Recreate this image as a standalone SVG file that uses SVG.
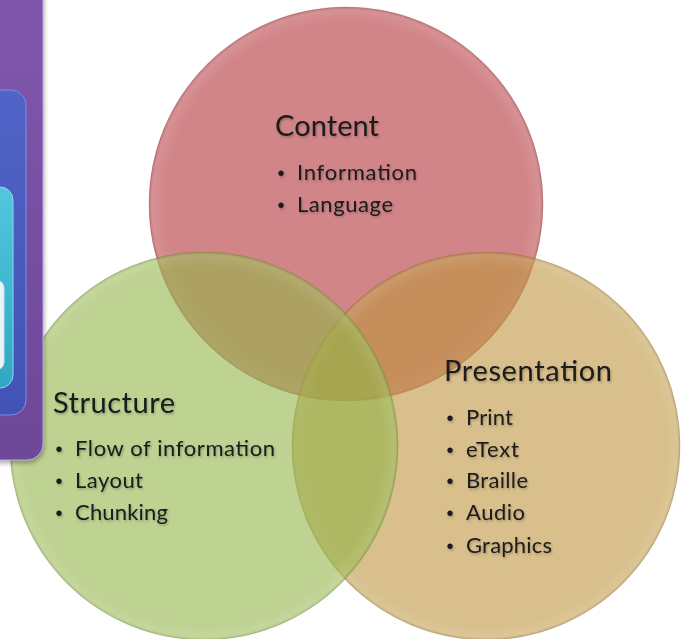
<svg xmlns="http://www.w3.org/2000/svg" width="686" height="639" viewBox="0 0 686 639">
  <defs>
    <linearGradient id="gPurple" x1="0" y1="0" x2="0" y2="1">
      <stop offset="0" stop-color="#8057ae"/>
      <stop offset="1" stop-color="#6d4898"/>
    </linearGradient>
    <linearGradient id="gBlue" x1="0" y1="0" x2="0" y2="1">
      <stop offset="0" stop-color="#5063c6"/>
      <stop offset="1" stop-color="#4253b5"/>
    </linearGradient>
    <linearGradient id="gCyan" x1="0" y1="0" x2="0" y2="1">
      <stop offset="0" stop-color="#52c6dd"/>
      <stop offset="1" stop-color="#30a8c4"/>
    </linearGradient>
    <filter id="panelShadow" x="-50%" y="-10%" width="200%" height="120%">
      <feDropShadow dx="1" dy="3" stdDeviation="2" flood-color="#000" flood-opacity="0.3"/>
    </filter>
    <filter id="textShadow" x="-10%" y="-30%" width="120%" height="160%">
      <feDropShadow dx="1" dy="1.5" stdDeviation="0.8" flood-color="#000" flood-opacity="0.25"/>
    </filter>
    <radialGradient id="rim" cx="0.5" cy="0.5" r="0.5">
      <stop offset="0.92" stop-color="#fff" stop-opacity="0"/>
      <stop offset="0.985" stop-color="#fff" stop-opacity="0.1"/>
      <stop offset="1" stop-color="#000" stop-opacity="0.08"/>
    </radialGradient>
  </defs>
  <style>
    .circle { stroke-width: 1; }
    .title { font-family: Lato, "Open Sans", "Liberation Sans", sans-serif; font-size: 29px; fill: #1a1a1a; }
    .item { font-family: Lato, "Open Sans", "Liberation Sans", sans-serif; font-size: 22px; fill: #1a1a1a; }
    .bullet { font-family: "Liberation Sans", sans-serif; font-size: 20px; fill: #1a1a1a; text-anchor: middle; }
    .txt { filter: url(#textShadow); }
  </style>

  <rect width="686" height="639" fill="#ffffff"/>

  <!-- circles -->
  <g id="content">
    <circle class="circle" cx="346" cy="204" r="197" fill="rgba(180,52,57,0.6)" stroke="rgba(150,60,60,0.3)"/>
    <circle cx="346" cy="204" r="197" fill="url(#rim)"/>
  </g>
  <g id="presentation">
    <circle class="circle" cx="486" cy="446" r="194" fill="rgba(190,148,62,0.6)" stroke="rgba(140,110,60,0.3)"/>
    <circle cx="486" cy="446" r="194" fill="url(#rim)"/>
  </g>
  <g id="structure">
    <circle class="circle" cx="204" cy="446" r="194" fill="rgba(147,180,72,0.6)" stroke="rgba(110,130,60,0.3)"/>
    <circle cx="204" cy="446" r="194" fill="url(#rim)"/>
  </g>

  <!-- left partial panel (drawn over the circles) -->
  <g id="side-panel">
    <rect x="-30" y="-20" width="73" height="480" rx="16" fill="url(#gPurple)" stroke="#b9a0dc" stroke-width="1" filter="url(#panelShadow)"/>
    <rect x="-30" y="90" width="56" height="325" rx="15" fill="url(#gBlue)" stroke="#7d90e6" stroke-width="1"/>
    <rect x="-30" y="187" width="43" height="201" rx="13" fill="url(#gCyan)" stroke="#8ddbee" stroke-width="1"/>
    <rect x="-30" y="280" width="34" height="90" rx="8" fill="#eaf4f7" stroke="#bfe3ec" stroke-width="1"/>
  </g>

  <!-- labels -->
  <g id="content-text" class="txt">
    <text class="title" x="275" y="136" textLength="104">Content</text>
    <text class="bullet" x="281" y="180">•</text>
    <text class="item" x="297" y="180" textLength="120">Information</text>
    <text class="bullet" x="281" y="212">•</text>
    <text class="item" x="297" y="212" textLength="96">Language</text>
  </g>
  <g id="structure-text" class="txt">
    <text class="title" x="53" y="413" textLength="122">Structure</text>
    <text class="bullet" x="59" y="456">•</text>
    <text class="item" x="75" y="456" textLength="200">Flow of information</text>
    <text class="bullet" x="59" y="488">•</text>
    <text class="item" x="75" y="488" textLength="68">Layout</text>
    <text class="bullet" x="59" y="520">•</text>
    <text class="item" x="75" y="520" textLength="93">Chunking</text>
  </g>
  <g id="presentation-text" class="txt">
    <text class="title" x="444" y="381" textLength="168">Presentation</text>
    <text class="bullet" x="450" y="425">•</text>
    <text class="item" x="466" y="425" textLength="47">Print</text>
    <text class="bullet" x="450" y="457">•</text>
    <text class="item" x="466" y="457" textLength="53">eText</text>
    <text class="bullet" x="450" y="488">•</text>
    <text class="item" x="466" y="488" textLength="62">Braille</text>
    <text class="bullet" x="450" y="520">•</text>
    <text class="item" x="466" y="520" textLength="59">Audio</text>
    <text class="bullet" x="450" y="553">•</text>
    <text class="item" x="466" y="553" textLength="86">Graphics</text>
  </g>
  <g id="connectors"/>
</svg>
